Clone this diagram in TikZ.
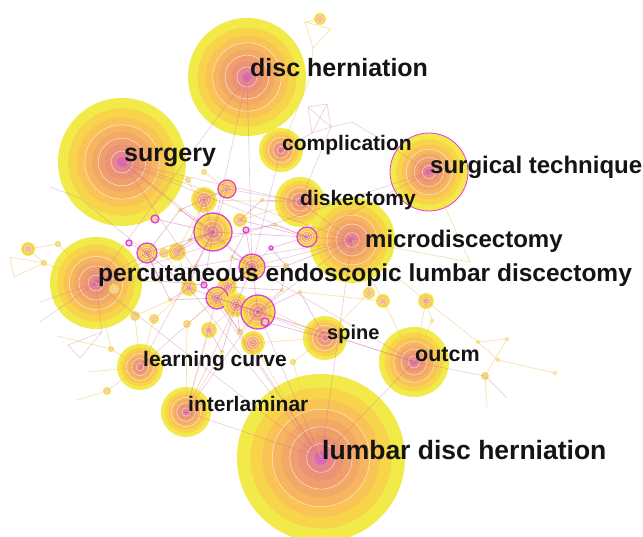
\documentclass[tikz,border=0pt]{standalone}
\usepackage{fontspec}
\setmainfont{Liberation Sans}
\definecolor{k0}{HTML}{F2EA48}
\definecolor{k1}{HTML}{F8D44A}
\definecolor{k2}{HTML}{F9C455}
\definecolor{k3}{HTML}{F6B55E}
\definecolor{k4}{HTML}{F3A966}
\definecolor{k5}{HTML}{F09E6D}
\definecolor{k6}{HTML}{EC9376}
\definecolor{k7}{HTML}{E6858C}
\definecolor{k8}{HTML}{D86CB4}
\definecolor{mag}{HTML}{E23AE6}
\definecolor{pedge}{HTML}{C8609E}
\definecolor{yedge}{HTML}{F0C050}
\newcommand{\kw}[4][draw=none]{%
  \coordinate (#2) at (#3);
  \foreach \f/\c in {1/k0,0.84/k1,0.70/k2,0.58/k3,0.47/k4,0.37/k5,0.27/k6,0.17/k7,0.08/k8}{%
    \fill[\c] (#2) circle[radius=\f*#4];}
  \foreach \f in {0.58,0.37,0.17}{%
    \draw[white,line width=0.5pt,opacity=0.7] (#2) circle[radius=\f*#4];}
  \draw[#1] (#2) circle[radius=#4];
}
\tikzset{
  pe/.style={draw=pedge,line width=0.7pt,opacity=0.30},
  pc/.style={draw=pedge,line width=0.7pt,opacity=0.40},
  ye/.style={draw=yedge,line width=0.7pt,opacity=0.45},
  mb/.style={draw=mag,line width=1.3pt},
  lab/.style={anchor=base west,inner sep=0pt,text=black!92,font=\bfseries\fontsize{#1}{#1}\selectfont}
}
\begin{document}
\begin{tikzpicture}[x=1pt,y=-1pt]
\useasboundingbox[fill=white] (0,0) rectangle (643,537);
% big keyword nodes
\kw{LDH}{321,458}{84}
\kw{DH}{247,77}{59}
\kw{SU}{122,162}{64}
\kw{PE}{96,283}{46}
\kw[draw=mag,line width=0.8pt]{ST}{429,172}{39}
\kw{CO}{281,150}{22}
\kw{DK}{300,202}{25}
\kw{MI}{352,240}{43}
\kw{SP}{325,338}{22}
\kw{OU}{414,362}{35}
\kw{LC}{140,367}{23}
\kw{IL}{186,412}{25}
% small nodes
\kw{s1}{320,19}{6}
\kw[mb]{s2}{227,189}{9}
\kw{s3}{204,200}{13}
\kw[mb]{s4}{213,232}{19}
\kw{s5}{240,220}{7}
\kw[mb]{s6}{246,230}{3}
\kw[mb]{s7}{307,237}{10}
\kw[mb]{s8}{147,253}{10}
\kw{s9}{164,253}{5}
\kw{s10}{177,252}{9}
\kw[mb]{s11}{252,267}{13}
\kw{s12}{189,288}{8}
\kw{s14}{227,287}{10}
\kw[mb]{s13}{217,298}{11}
\kw{s15}{236,305}{12}
\kw[mb]{s16}{258,312}{17}
\kw[mb]{s17}{265,322}{4}
\kw{s18}{209,330}{8}
\kw[mb]{s19}{204,285}{3}
\kw[mb]{s20}{155,219}{4}
\kw{s21}{28,249}{7}
\kw{s22}{58,244}{3}
\kw{s23}{44,263}{3}
\kw{s24}{114,289}{5}
\kw{s25}{107,391}{4}
\kw{s26}{111,349}{3}
\kw{s27}{369,293}{6}
\kw{s28}{383,301}{7}
\kw{s29}{426,301}{8}
\kw{s30}{485,376}{4}
\kw{s31}{507,339}{2}
\kw{s32}{478,342}{2}
\kw{s33}{498,360}{2}
\kw{s34}{555,373}{2}
\kw{s35}{432,321}{2}
\kw{s36}{253,343}{12}
\kw{s39}{293,362}{3}
\kw{s41}{135,316}{5}
\kw{s42}{154,319}{5}
\kw{s43}{187,324}{4}
\kw{s47}{188,180}{3}
\kw{s48}{204,172}{3}
\kw[mb]{s51}{129,243}{3}
\kw{c1}{180,210}{2}
\kw{c2}{232,257}{2}
\kw[mb]{c3}{271,248}{2}
\kw{c4}{196,266}{2}
\kw{c5}{240,332}{3}
\kw{c6}{282,290}{2}
\kw{c7}{170,300}{2}
\kw{c8}{262,200}{2}
\kw{c9}{286,266}{3}
\kw{c10}{222,352}{2}
\kw{c11}{160,281}{2}
\kw{c12}{300,292}{2}
\kw{c13}{275,225}{2}
\kw{c14}{190,240}{2}
% free ends
\coordinate (f1) at (305,22);
\coordinate (f2) at (331,29);
\coordinate (f3) at (313,48);
\coordinate (f4) at (310,78);
\coordinate (f5) at (308,107);
\coordinate (f6) at (327,104);
\coordinate (f7) at (331,127);
\coordinate (f8) at (352,122);
\coordinate (f9) at (377,137);
\coordinate (f10) at (312,133);
\coordinate (f11) at (10,257);
\coordinate (f12) at (14,277);
\coordinate (f13) at (68,345);
\coordinate (f14) at (102,332);
\coordinate (f15) at (80,358);
\coordinate (f16) at (50,187);
\coordinate (f16b) at (80,198);
\coordinate (f17) at (40,302);
\coordinate (f18) at (40,322);
\coordinate (f19) at (57,336);
\coordinate (f20) at (88,372);
\coordinate (f21) at (77,400);
\coordinate (f22) at (470,262);
\coordinate (f23) at (507,398);
\coordinate (f24) at (487,407);
% pink edges (long)
\foreach \a/\b in {SU/LDH,PE/LDH,MI/LDH,OU/LDH,IL/LDH,
  PE/MI,SU/MI,DH/PE,SU/DK,PE/ST,s7/MI,s2/DK,s11/MI,s16/LDH,s13/LDH,s8/PE,
  s4/PE,s11/PE,s16/MI,s16/SP,s13/IL,s15/IL,s11/SU,s4/SU,s7/ST,DK/MI,CO/s11,OU/s16,OU/s11,OU/s13,
  f5/f6,f6/f7,f7/f10,f10/f5,f5/f7,f6/f10,f7/f8,f8/f9,f10/CO,f7/DK,f9/ST,
  f13/f14,f14/f15,f15/f13,f14/PE,f17/PE,f18/PE,s30/f23,OU/s30,f16/f16b,f16b/s8,s51/s8,s4/LC,s13/LC,
  s16/IL,s11/DH,s4/DH,s7/SU,s12/LDH}
  \draw[pe] (\a) -- (\b);
% pink edges (central cluster)
\foreach \a/\b in {s2/s4,s4/s11,s11/s16,s13/s16,s8/s4,s4/s7,s3/s4,s14/s11,s12/s13,s20/s4,s19/s13,
  s6/s11,s5/s7,c1/s4,c1/s8,c2/s11,c2/s14,c3/s11,c3/s7,c4/s12,c4/s4,c5/s16,c5/s15,c6/s16,c6/c9,
  c7/s12,c7/s8,c8/s5,c8/DK,c9/s11,c9/MI,c10/s18,c10/s15,c11/s8,c11/s19,c12/s16,c12/SP,c13/s7,
  c13/s6,c14/s4,c14/s10,s14/s13,s15/s16,s19/s4,s12/s8,c2/s6,c3/c9,s17/s15,c6/s14,c4/s19,c1/s2,
  s11/s15,s13/s11,c7/s13,c14/s3,s10/s4,s17/SP,c5/s13}
  \draw[pc] (\a) -- (\b);
% yellow edges
\foreach \a/\b in {s1/f1,f1/f2,f2/f3,f3/f1,f3/f4,f4/CO,s21/s22,s22/PE,s21/s23,s23/PE,f11/f12,f12/s23,
  f11/s23,s25/LC,s26/PE,s26/LC,s24/PE,f19/s26,f20/LC,f21/s25,s27/MI,s28/MI,s29/MI,s29/OU,s28/OU,
  s27/SP,s31/s32,s32/s29,s32/s33,s33/s34,s31/s30,s35/OU,s35/s29,s39/LDH,s39/SP,s36/SP,s36/LDH,
  s41/LC,s42/s12,s43/s13,s18/IL,s18/s15,s47/SU,s48/s2,s9/s8,s10/s12,s10/s3,s14/SP,s5/DK,f22/MI,
  f22/ST,s36/s16,s30/f24,s41/PE,s42/LC,s43/IL,s9/s12,s3/DK,s47/s4,c7/s41,c11/PE,c12/s28,c10/IL}
  \draw[ye] (\a) -- (\b);
% labels
\node[lab=25] (tDH) at (250,77) {disc herniation};
\node[lab=25] (tSU) at (124,162) {surgery};
\node[lab=24] (tST) at (430,174) {surgical technique};
\node[lab=24.5] (tPE) at (98,282) {percutaneous endoscopic lumbar discectomy};
\node[lab=24] (tMI) at (365,248) {microdiscectomy};
\node[lab=21] (tCO) at (282,151) {complication};
\node[lab=21] (tDK) at (300,206) {diskectomy};
\node[lab=20] (tSP) at (327,340) {spine};
\node[lab=21.5] (tOU) at (415,362) {outcm};
\node[lab=21] (tLC) at (143,367) {learning curve};
\node[lab=21] (tIL) at (188,412) {interlaminar};
\node[lab=26.5] (tLDH) at (322,460) {lumbar disc herniation};
\end{tikzpicture}
\end{document}
